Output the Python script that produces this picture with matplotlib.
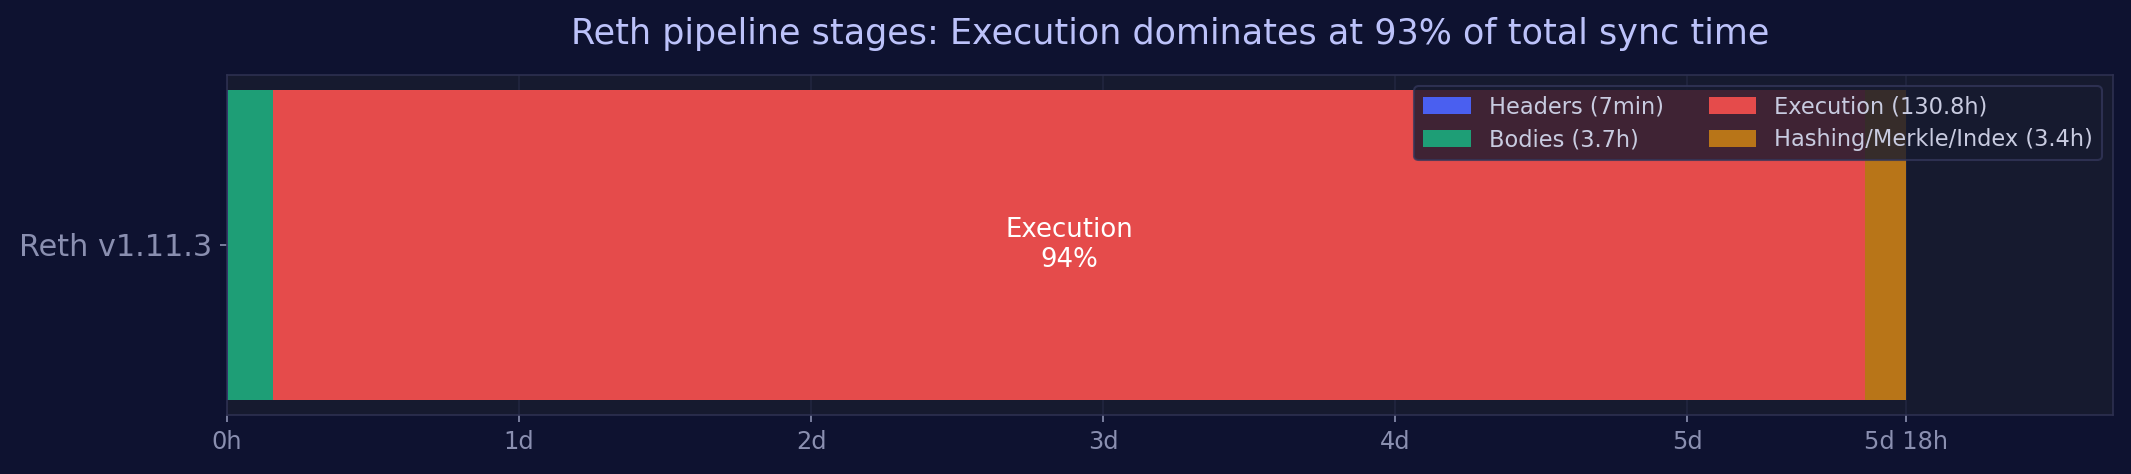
import matplotlib
matplotlib.use("Agg")
import matplotlib.pyplot as plt

# stage durations in hours
stages = ["Headers", "Bodies", "Execution", "Hashing/Merkle/Index"]
hours = [7 / 60, 3.7, 130.8, 3.4]
legend_labels = ["Headers (7min)", "Bodies (3.7h)", "Execution (130.8h)",
                 "Hashing/Merkle/Index (3.4h)"]
colors = ["#4a5ff0", "#1e9e76", "#e54b4b", "#b87518"]
client = "Reth v1.11.3"
tick_hours = [0, 24, 48, 72, 96, 120, 138]
tick_labels = ["0h", "1d", "2d", "3d", "4d", "5d", "5d 18h"]

fig_bg = "#0e1230"
ax_bg = "#161a2f"
text_col = "#8a8fb0"
title_col = "#bcc2fa"

fig, ax = plt.subplots(figsize=(2131 / 150, 474 / 150), dpi=150)
fig.patch.set_facecolor(fig_bg)
ax.set_facecolor(ax_bg)
fig.subplots_adjust(left=0.1065, right=0.9916, top=0.842, bottom=0.1245)

left = 0.0
for name, h, c, lab in zip(stages, hours, colors, legend_labels):
    ax.barh([client], [h], left=left, color=c, height=0.6, label=lab)
    if name == "Execution":
        pct = h / sum(hours) * 100
        ax.text(left + h / 2, 0, f"Execution\n{int(pct)}%", ha="center",
                va="center", color="white", fontsize=12.5)
    left += h

ax.set_xlim(0, 155)
ax.set_xticks(tick_hours)
ax.set_xticklabels(tick_labels)
ax.tick_params(axis="x", colors=text_col, labelsize=11.5)
ax.tick_params(axis="y", colors=text_col, labelsize=14.5)
ax.grid(axis="x", color="#22263f", linewidth=0.8)
ax.set_axisbelow(True)
for s in ax.spines.values():
    s.set_color("#2d3050")

ax.set_title("Reth pipeline stages: Execution dominates at 93% of total sync time",
             color=title_col, fontsize=16.8, pad=15)

ax.legend(ncol=2, loc="upper right", fontsize=10.8, frameon=True,
          facecolor=ax_bg, edgecolor="#33365a", framealpha=0.8,
          labelcolor="#c8cbe0", columnspacing=2.0, handlelength=2.1,
          handleheight=0.75, labelspacing=0.45, borderpad=0.4)

fig.savefig("out.png", dpi=150, facecolor=fig_bg)
